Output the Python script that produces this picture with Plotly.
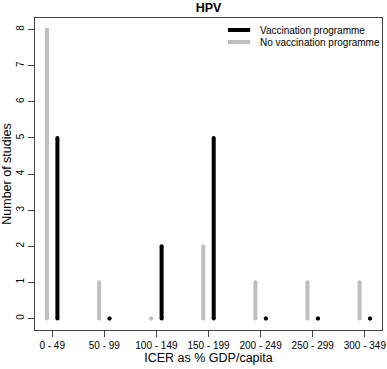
import plotly.graph_objects as go

categories = ["0 - 49", "50 - 99", "100 - 149", "150 - 199", "200 - 249", "250 - 299", "300 - 349"]
vaccination = [5, 0, 2, 5, 0, 0, 0]
no_vaccination = [8, 1, 0, 2, 1, 1, 1]
y_ticks = [0, 1, 2, 3, 4, 5, 6, 7, 8]

FONT = "Liberation Sans, Arial, sans-serif"
GREY = "#bebebe"
BLACK = "#000000"

def stems(values, offset):
    xs, ys = [], []
    for i, v in enumerate(values):
        xs += [i + 1 + offset, i + 1 + offset, None]
        ys += [0, v, None]
    return xs, ys

fig = go.Figure()
for name, vals, off, col in [("No vaccination programme", no_vaccination, -0.1, GREY),
                             ("Vaccination programme", vaccination, 0.1, BLACK)]:
    xs, ys = stems(vals, off)
    fig.add_trace(go.Scatter(x=xs, y=ys, mode="lines+markers", name=name,
                             line=dict(color=col, width=4),
                             marker=dict(color=col, size=4, line=dict(width=0)),
                             showlegend=False, hoverinfo="skip"))

# manual legend (R style, no box)
legend_items = [("Vaccination programme", BLACK, 0.9615), ("No vaccination programme", GREY, 0.923)]
for label, col, yy in legend_items:
    fig.add_shape(type="line", xref="paper", yref="paper", x0=0.556, x1=0.620, y0=yy, y1=yy,
                  line=dict(color=col, width=4))
    fig.add_annotation(xref="paper", yref="paper", x=0.643, y=yy, text=label, showarrow=False,
                       xanchor="left", yanchor="middle", font=dict(family=FONT, size=10, color="#000"))

axis_common = dict(showline=True, mirror=True, linecolor="#444", linewidth=1, automargin=False,
                   ticks="outside", ticklen=6, tickcolor="#444", showgrid=False, zeroline=False,
                   tickfont=dict(family=FONT, size=10, color="#000"))

fig.update_layout(
    width=387, height=369,
    margin=dict(l=35, r=5, t=18, b=39),
    paper_bgcolor="white", plot_bgcolor="white",
    title=dict(text="<b>HPV</b>", x=0.539, xanchor="center", y=0.98, yanchor="middle",
               yref="container", font=dict(family=FONT, size=12.5, color="#000")),
    xaxis=dict(range=[0.67, 7.33], tickvals=list(range(1, len(categories) + 1)), ticktext=categories,
               title=dict(text="ICER as % GDP/capita", font=dict(family=FONT, size=12.5, color="#000"), standoff=3),
               **axis_common),
    yaxis=dict(range=[-0.32, 8.32], tickvals=y_ticks, tickangle=-90,
               title=dict(text="Number of studies", font=dict(family=FONT, size=12.5, color="#000"), standoff=4),
               **axis_common),
)

fig.write_html("out.html", config={"displayModeBar": False},
               post_script="document.body.style.margin='0';")
